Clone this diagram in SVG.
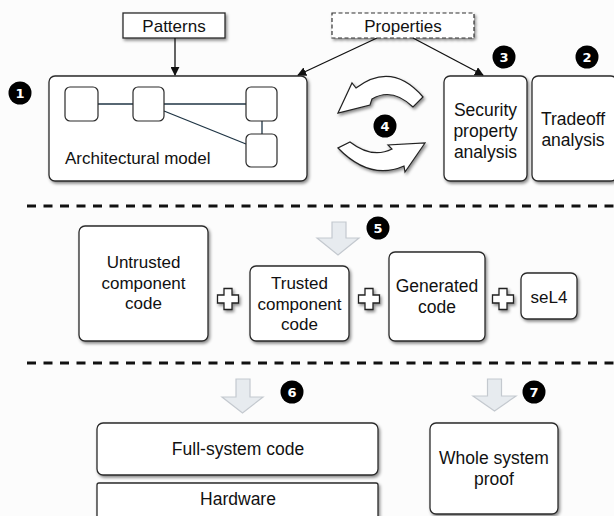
<svg xmlns="http://www.w3.org/2000/svg" width="614" height="516" viewBox="0 0 614 516">
<defs>
<filter id="sh" x="-20%" y="-20%" width="150%" height="150%">
<feDropShadow dx="1.5" dy="2" stdDeviation="1.6" flood-color="#000" flood-opacity="0.45"/>
</filter>
<marker id="ah" viewBox="0 0 10 10" refX="9" refY="5" markerWidth="9" markerHeight="9" markerUnits="userSpaceOnUse" orient="auto">
<path d="M0,0 L10,5 L0,10 Z" fill="#111"/>
</marker>
</defs>
<style>
.box{fill:#fff;stroke:#2a2a2a;stroke-width:1.3;filter:url(#sh)}
.ib{fill:#fff;stroke:#2a2a2a;stroke-width:1.2}
.t{font-family:"Liberation Sans",Arial,sans-serif;font-size:17.5px;fill:#111;text-anchor:middle}
.tl{font-family:"Liberation Sans",Arial,sans-serif;font-size:17px;fill:#111}
.num circle{fill:#000}
.num text{font-family:"DejaVu Sans",sans-serif;font-weight:bold;font-size:13px;fill:#fff;text-anchor:middle}
.dash{stroke:#111;stroke-width:3;stroke-dasharray:9 7.5;fill:none}
.grey{fill:#e7ebef;stroke:#c4c9cf;stroke-width:1.2}
.plus{fill:#fff;stroke:#222;stroke-width:1.3;filter:url(#sh)}
.curve{fill:#fff;stroke:#222;stroke-width:1.2;filter:url(#sh)}
.conn{stroke:#111;stroke-width:1.3;fill:none;marker-end:url(#ah)}
.link{stroke:#1f3545;stroke-width:1.3;fill:none}
</style>
<rect width="614" height="516" fill="#fcfcfc"/>

<g id="patterns">
<rect class="box" x="123" y="13" width="102" height="25"/>
<text class="t" x="174" y="32" style="font-size:17px">Patterns</text>
</g>

<g id="properties">
<rect x="332" y="13" width="142" height="25" fill="#fff" stroke="#333" stroke-width="1.2" stroke-dasharray="4 2.5" filter="url(#sh)"/>
<text class="t" x="403" y="32" style="font-size:17px">Properties</text>
</g>

<g id="arch-model">
<rect class="box" x="49" y="76" width="258" height="105" rx="6"/>
<line class="link" x1="98" y1="104" x2="133" y2="104"/>
<line class="link" x1="164" y1="104" x2="246" y2="104"/>
<line class="link" x1="164" y1="111" x2="246" y2="144"/>
<line class="link" x1="262" y1="121" x2="262" y2="134"/>
<rect class="ib" x="65" y="87" width="33" height="34" rx="5"/>
<rect class="ib" x="133" y="87" width="31" height="34" rx="5"/>
<rect class="ib" x="246" y="87" width="31" height="34" rx="5"/>
<rect class="ib" x="246" y="134" width="31" height="33" rx="5"/>
<text class="tl" x="65" y="164">Architectural model</text>
</g>

<g id="security-analysis">
<rect class="box" x="444" y="76" width="83" height="105" rx="6"/>
<text class="t" x="485.5" y="116">Security</text>
<text class="t" x="485.5" y="137">property</text>
<text class="t" x="485.5" y="158">analysis</text>
</g>

<g id="tradeoff-analysis">
<rect class="box" x="532" y="76" width="85" height="105" rx="6"/>
<text class="t" x="573" y="125">Tradeoff</text>
<text class="t" x="573" y="146">analysis</text>
</g>

<g id="untrusted">
<rect class="box" x="79" y="226" width="129" height="115" rx="6"/>
<text class="t" x="143.5" y="268" style="font-size:17px">Untrusted</text>
<text class="t" x="143.5" y="289" style="font-size:17px">component</text>
<text class="t" x="143.5" y="309" style="font-size:17px">code</text>
</g>

<g id="trusted">
<rect class="box" x="250" y="266" width="99" height="75" rx="6"/>
<text class="t" x="299.5" y="289" style="font-size:17px">Trusted</text>
<text class="t" x="299.5" y="310" style="font-size:17px">component</text>
<text class="t" x="299.5" y="330" style="font-size:17px">code</text>
</g>

<g id="generated">
<rect class="box" x="389" y="252" width="96" height="89" rx="6"/>
<text class="t" x="437" y="292">Generated</text>
<text class="t" x="437" y="313">code</text>
</g>

<g id="sel4">
<rect class="box" x="521" y="273" width="56" height="46" rx="6"/>
<text class="t" x="549" y="303" style="font-size:17px">seL4</text>
</g>

<g id="full-system-code">
<rect class="box" x="97" y="423" width="281" height="52" rx="6"/>
<text class="t" x="238" y="455">Full-system code</text>
</g>

<g id="hardware">
<rect class="box" x="97" y="483" width="281" height="45" rx="2"/>
<text class="t" x="238" y="505">Hardware</text>
</g>

<g id="whole-system-proof">
<rect class="box" x="430" y="423" width="128" height="91" rx="6"/>
<text class="t" x="494" y="464">Whole system</text>
<text class="t" x="494" y="485">proof</text>
</g>

<g id="connectors">
<line class="conn" x1="175" y1="38" x2="175" y2="75"/>
<line class="conn" x1="377" y1="38" x2="298" y2="75"/>
<line class="conn" x1="413" y1="38" x2="483" y2="75"/>
<path class="curve" d="M338,113 L352,83 L356,88 Q392,61 423,97 L413,107 Q392,87 372,99 L370,105 Z"/>
<path class="curve" d="M425,143 L405,172 L404,166 Q370,181 338,148 L350,142 Q372,159 392,149 L388,145 Z"/>
<path class="grey" d="M332,222 H346 V238 H359 L338,255 L317,238 H332 Z"/>
<path class="grey" d="M236,379 H250 V397 H263 L242.5,413 L222,397 H236 Z"/>
<path class="grey" d="M487.5,379 H501.5 V396 H516 L494.5,411 L473,396 H487.5 Z"/>
<path class="plus" d="M224,288.5 H232 V295 H238.5 V303 H232 V309.5 H224 V303 H217.5 V295 H224 Z"/>
<path class="plus" d="M365,288.5 H373 V295 H379.5 V303 H373 V309.5 H365 V303 H358.5 V295 H365 Z"/>
<path class="plus" d="M499,288.5 H507 V295 H513.5 V303 H507 V309.5 H499 V303 H492.5 V295 H499 Z"/>
<line class="dash" x1="27" y1="206" x2="614" y2="206"/>
<line class="dash" x1="27" y1="363" x2="614" y2="363"/>
</g>

<g class="num">
<g id="n1"><circle cx="20" cy="93" r="11.5"/><text x="20" y="97.5">1</text></g>
<g id="n2"><circle cx="587" cy="57" r="11.5"/><text x="587" y="61.5">2</text></g>
<g id="n3"><circle cx="504" cy="57" r="11.5"/><text x="504" y="61.5">3</text></g>
<g id="n4"><circle cx="385" cy="126" r="11.5"/><text x="385" y="130.5">4</text></g>
<g id="n5"><circle cx="378" cy="228" r="11.5"/><text x="378" y="232.5">5</text></g>
<g id="n6"><circle cx="292" cy="392" r="11.5"/><text x="292" y="396.5">6</text></g>
<g id="n7"><circle cx="534" cy="392" r="11.5"/><text x="534" y="396.5">7</text></g>
</g>
</svg>
